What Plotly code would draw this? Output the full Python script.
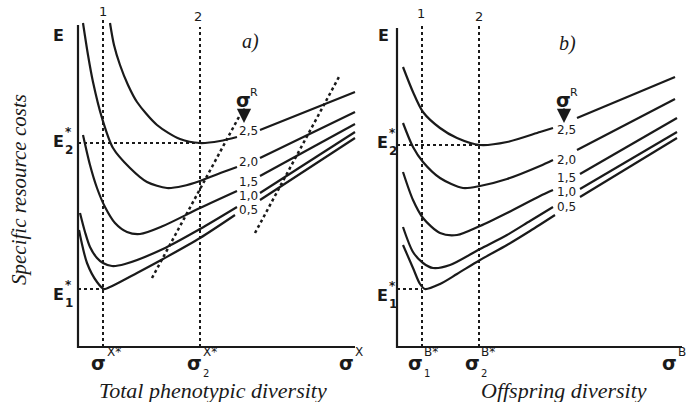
import plotly.graph_objects as go

W, H = 688, 402

# ---------------- data (arbitrary units) ----------------
# Panel a) total phenotypic diversity
a_sig1, a_sig2 = 2.5, 12.2          # sigma^X* , sigma_2^X*
a_E1, a_E2 = 5.8, 20.4              # E1*, E2*
a_levels = ["2,5", "2,0", "1,5", "1,0", "0,5"]

a25_x = [3.2, 3.6, 4.2, 5.0, 5.9, 7.9, 10.2, 12.2, 14.2, 15.9]
a25_y = [32.4, 30.2, 28.2, 26.2, 24.5, 22.2, 20.8, 20.4, 20.6, 21.0]
a25_rx = [18.2, 24.2, 27.7]
a25_ry = [21.7, 24.1, 25.5]

a20_x = [0.5, 1.0, 1.5, 2.4, 3.5, 5.2, 6.9, 8.9, 10.5, 12.2, 14.0, 15.9]
a20_y = [32.4, 29.2, 26.5, 22.9, 19.9, 17.9, 16.5, 15.9, 16.1, 16.6, 17.3, 18.0]
a20_rx = [18.2, 27.7]
a20_ry = [18.9, 23.5]

a15_x = [0.5, 1.2, 1.9, 2.7, 3.7, 4.9, 6.2, 8.5, 12.2, 15.9]
a15_y = [21.2, 18.2, 15.9, 14.0, 12.4, 11.5, 11.3, 12.1, 13.9, 15.6]
a15_rx = [18.2, 27.7]
a15_ry = [17.1, 22.3]

a10_x = [0.2, 0.7, 1.2, 1.9, 2.5, 3.4, 4.7, 8.5, 12.2, 15.9]
a10_y = [13.4, 11.5, 10.0, 8.9, 8.4, 8.1, 8.3, 9.8, 11.8, 14.0]
a10_rx = [18.2, 27.7]
a10_ry = [15.4, 21.5]

a05_x = [0.1, 0.9, 1.9, 2.6, 3.2, 5.9, 8.5, 12.2, 15.7]
a05_y = [11.7, 8.4, 6.5, 5.8, 6.0, 7.4, 8.8, 10.9, 13.2]
a05_rx = [18.2, 27.7]
a05_ry = [14.7, 20.9]

# slanted dotted lines in panel a
a_d1_x, a_d1_y = [7.4, 16.2], [6.9, 23.2]
a_d2_x, a_d2_y = [17.7, 26.2], [11.4, 27.2]

# Panel b) offspring diversity
b_sig1, b_sig2 = 2.5, 8.2
b_E1, b_E2 = 5.8, 20.2

b25_x = [0.6, 1.6, 2.6, 4.3, 6.0, 8.3, 11.0, 14.3, 15.6]
b25_y = [28.0, 25.5, 23.5, 21.9, 20.9, 20.2, 20.5, 21.5, 21.9]
b25_rx = [18.0, 27.8]
b25_ry = [22.9, 27.0]

b20_x = [0.6, 1.6, 2.6, 4.3, 6.6, 8.3, 11.0, 14.3, 15.6]
b20_y = [22.4, 20.0, 18.5, 16.9, 15.9, 16.1, 16.8, 18.1, 18.7]
b20_rx = [18.0, 27.8]
b20_ry = [19.7, 24.8]

b15_x = [0.6, 1.6, 2.6, 4.3, 6.0, 8.3, 11.0, 14.3, 15.6]
b15_y = [17.5, 14.7, 12.9, 11.4, 11.2, 12.1, 13.4, 15.1, 15.7]
b15_rx = [18.3, 28.0]
b15_ry = [17.3, 22.9]

b10_x = [0.6, 1.6, 2.6, 3.6, 5.3, 8.3, 11.0, 13.3, 15.6]
b10_y = [12.0, 9.5, 8.4, 7.9, 8.2, 9.8, 11.2, 12.6, 14.0]
b10_rx = [18.3, 28.0]
b10_ry = [15.8, 21.5]

b05_x = [0.6, 1.6, 2.3, 2.8, 4.3, 6.0, 8.3, 11.0, 13.3, 15.8]
b05_y = [10.2, 7.9, 6.3, 5.8, 6.3, 7.3, 8.7, 10.2, 11.6, 13.2]
b05_rx = [18.3, 28.0]
b05_ry = [15.0, 20.9]

# ---------------- figure ----------------
fig = go.Figure()
INK = "#1a1a1a"


def curve(xl, yl, xr, yr, xa):
    fig.add_trace(go.Scatter(x=xl + [None] + xr, y=yl + [None] + yr, mode="lines",
                             line=dict(color=INK, width=2.2, shape="spline", smoothing=0.8),
                             xaxis=xa, yaxis="y", hoverinfo="skip", showlegend=False,
                             connectgaps=False))


def seg(x, y, xa, dash=None, width=2):
    fig.add_trace(go.Scatter(x=x, y=y, mode="lines",
                             line=dict(color=INK, width=width, dash=dash),
                             xaxis=xa, yaxis="y", hoverinfo="skip", showlegend=False))


# axes (drawn as lines)
seg([0, 0, 27.7], [32.2, 0, 0], "x", width=2.2)
seg([0, 0, 28.5], [31.9, 0, 0], "x2", width=2.2)

# guide dotted lines panel a
seg([a_sig1, a_sig1], [0, 33.0], "x", dash="dot")
seg([a_sig2, a_sig2], [0, 32.0], "x", dash="dot")
seg([0, a_sig2], [a_E2, a_E2], "x", dash="dot")
seg([0, a_sig1], [a_E1, a_E1], "x", dash="dot")
seg(a_d1_x, a_d1_y, "x", dash="dot", width=2.5)
seg(a_d2_x, a_d2_y, "x", dash="dot", width=2.5)

# guide dotted lines panel b
seg([b_sig1, b_sig1], [0, 32.2], "x2", dash="dot")
seg([b_sig2, b_sig2], [0, 32.2], "x2", dash="dot")
seg([0, b_sig2], [b_E2, b_E2], "x2", dash="dot")
seg([0, b_sig1], [b_E1, b_E1], "x2", dash="dot")

# curves
curve(a25_x, a25_y, a25_rx, a25_ry, "x")
curve(a20_x, a20_y, a20_rx, a20_ry, "x")
curve(a15_x, a15_y, a15_rx, a15_ry, "x")
curve(a10_x, a10_y, a10_rx, a10_ry, "x")
curve(a05_x, a05_y, a05_rx, a05_ry, "x")

curve(b25_x, b25_y, b25_rx, b25_ry, "x2")
curve(b20_x, b20_y, b20_rx, b20_ry, "x2")
curve(b15_x, b15_y, b15_rx, b15_ry, "x2")
curve(b10_x, b10_y, b10_rx, b10_ry, "x2")
curve(b05_x, b05_y, b05_rx, b05_ry, "x2")

ann = []
SANS = "DejaVu Sans"
SERIF = "Liberation Serif"


def P(px, py):
    return px / W, 1 - py / H


def txt(px, py, s, size=14, font=SANS, color=INK, angle=0, xanchor="center", yanchor="middle"):
    x, y = P(px, py)
    ann.append(dict(x=x, y=y, xref="paper", yref="paper", text=s, showarrow=False,
                    font=dict(family=font, size=size, color=color), textangle=angle,
                    xanchor=xanchor, yanchor=yanchor, borderpad=0))


def arrow(px, py_top, py_tip):
    x, y = P(px, py_tip)
    ann.append(dict(x=x, y=y, xref="paper", yref="paper", text="", showarrow=True,
                    ax=0, ay=-(py_tip - py_top), arrowhead=2, arrowsize=1.3,
                    arrowwidth=2.2, arrowcolor=INK))


def elabel(px, py, sub):
    txt(px, py, "<b>E</b>", 16)
    txt(px + 6, py - 9, "<b>*</b>", 12, xanchor="left")
    txt(px + 6, py + 9, "<b>" + sub + "</b>", 12, xanchor="left")


# E labels
for ex in (58, 383):
    txt(ex, 35, "<b>E</b>", 16)
elabel(58, 141, "2")
elabel(58, 294, "1")
elabel(382, 142, "2")
elabel(382, 295, "1")

# dotted line numbers at top
txt(103, 11, "1", 13); txt(198, 17, "2", 13)
txt(421, 14, "1", 13); txt(479, 16, "2", 13)

# panel letters
txt(250, 42, "<i>a)</i>", 20, SERIF)
txt(567, 43, "<i>b)</i>", 20, SERIF)

# sigma^R markers
for sx in (245, 565):
    txt(sx - 2, 100, "<b>σ</b>", 19)
    txt(sx + 9, 92, "R", 11)
    arrow(sx - 1, 107, 123)

# level labels
a_lab_y = [131, 162, 182, 196, 210]
b_lab_y = [130, 160, 178, 192, 207]
for lab, yy in zip(a_levels, a_lab_y):
    txt(249, yy, lab, 12)
for lab, yy in zip(a_levels, b_lab_y):
    txt(566, yy, lab, 12)


def sigma(px, sup, sub=None):
    txt(px, 363, "<b>σ</b>", 19)
    txt(px + 8, 352, sup, 12, xanchor="left")
    if sub:
        txt(px + 8, 373, sub, 10, xanchor="left")


sigma(98, "X*")
sigma(194, "X*", "2")
sigma(346, "X")
sigma(415, "B*", "1")
sigma(472, "B*", "2")
sigma(669, "B")

# axis titles
txt(213, 390, "<i>Total phenotypic diversity</i>", 22, SERIF)
txt(564, 390, "<i>Offspring diversity</i>", 22, SERIF)
txt(19, 190, "<i>Specific resource costs</i>", 21, SERIF, angle=-90)

fig.update_layout(
    width=W, height=H, margin=dict(l=0, r=0, t=0, b=0),
    paper_bgcolor="white", plot_bgcolor="white", showlegend=False,
    xaxis=dict(domain=[0, 1], range=[-7.8, 61.0], visible=False, fixedrange=True),
    xaxis2=dict(domain=[0, 1], range=[-39.7, 29.1], visible=False, overlaying="x",
                fixedrange=True),
    yaxis=dict(domain=[0, 1], range=[-5.5, 34.7], visible=False, fixedrange=True),
    annotations=ann,
)

fig.write_html("out.html")
